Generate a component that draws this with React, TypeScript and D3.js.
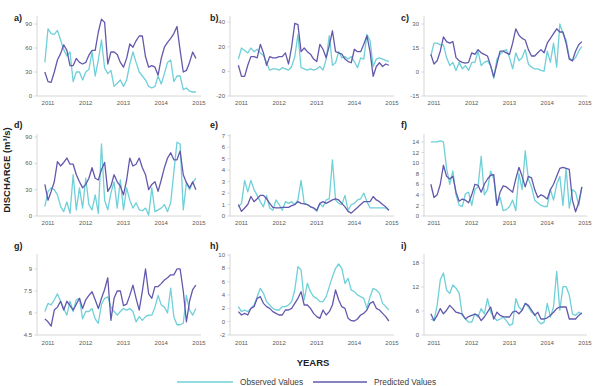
import React from "react";
import * as d3 from "d3";

// ---------- DATA ----------
// monthly values Dec 2010 .. Dec 2014 (49 points)
const startYear = 2010 + 11 / 12;
const nMonths = 49;
const yearTicks = [2011, 2012, 2013, 2014, 2015];
const seriesNames = ["Observed Values", "Predicted Values"];
const panelLabels = ["a)", "b)", "c)", "d)", "e)", "f)", "g)", "h)", "i)"];

const obsA = [42,84,78,77,82,70,58,50,55,18,30,30,20,30,33,55,25,45,70,35,28,32,12,16,20,12,20,40,55,42,30,25,20,12,10,12,25,15,28,42,45,18,25,25,8,10,6,5,5];
const predA = [30,18,17,30,45,53,64,57,38,38,47,42,40,42,51,57,57,80,96,92,40,55,55,52,42,36,47,65,61,69,75,75,49,36,38,36,26,47,61,67,72,78,87,57,30,32,42,55,47];

const obsB = [10,19,17,15,19,16,18,15,13,7,1,2,2,1,3,2,1,4,12,30,3,2,1,2,1,2,4,1,10,29,5,7,16,11,12,10,12,8,3,11,10,30,25,4,10,11,10,9,8];
const predB = [5,-4,-4,5,12,12,11,22,15,5,12,11,11,12,12,15,6,20,39,38,16,19,16,14,10,8,22,18,11,21,33,16,15,14,10,8,7,18,16,16,22,29,16,-4,4,7,4,6,5];

const obsC = [10,18,18,17,17,9,4,6,1,6,2,4,1,6,6,13,4,6,7,4,-4,8,11,13,14,9,2,12,7,9,14,5,3,2,2,1,0.5,13,6,18,3,30,24,20,9,7,9,13,16];
const predC = [11,5,7,13,22,19,18,19,9,7,6,5.5,6,12,11,14,12,11,10,4,-3,5,13,13,12,11,18,27,23,21,20,14,10,10,12,14,12,18,21,24,27,25,25,18,8,7,13,17,19];

const obsD = [11,28,32,30,24,11,5,16,3,47,7,32,9,43,13,7,24,3,82,18,7,26,39,9,41,7,32,18,9,15,7,6,9,1,32,5,7,9,13,5,15,50,84,82,7,38,30,38,43];
const predD = [36,18,28,39,62,57,61,66,59,59,47,39,32,36,43,55,43,41,53,61,28,34,47,39,34,24,41,66,57,59,66,55,47,30,36,39,28,41,55,66,72,64,64,74,47,38,32,39,30];

const obsE = [0.8,1.1,3.1,2.1,3.1,2.3,1.8,1.25,0.8,1.8,0.7,0.5,1.4,1.0,0.5,1.25,1.1,1.25,1.0,1.4,3.1,1.1,1.0,0.8,0.7,0.4,1.1,0.8,1.4,1.5,4.9,1.4,1.1,1.0,1.8,0.5,1.0,1.1,1.4,1.5,2.0,1.25,0.7,0.7,0.7,0.7,0.7,0.7,0.5];
const predE = [1.0,0.4,0.7,1.0,1.7,1.25,1.5,1.8,1.8,1.5,1.1,0.75,0.7,0.7,0.75,0.75,0.75,0.9,1.0,1.25,1.1,1.05,1.0,0.8,0.7,0.5,1.1,1.25,1.1,1.25,1.4,1.5,1.4,1.1,0.8,0.4,0.25,0.5,0.75,1.0,1.25,1.25,1.25,1.7,1.4,1.25,1.0,0.8,0.5];

const obsF = [14,14,14,14.2,14,9,6,8.5,4,2,1.8,4.2,4.5,2,5,5.5,11.3,4,5,8.5,7,2,3.5,1,1.2,1.8,3,1,8,5,12.3,7,5.5,3,2.5,2,1.8,1.8,5,3,6,7.5,2,9,1.5,5,4.5,2,5.5];
const predF = [6,3.5,4,6,9.6,7.5,7,7.5,4.5,2.8,3.2,3,2.5,4,6,5.8,4.5,6,7,7.7,7.8,2,4.5,5.7,5.5,5,4.5,7,9.2,7.5,5.5,7.5,7.2,5,3.5,4,3.7,3.2,5,6,7.5,9,9.2,9,8.8,3,0.8,2.5,5.5];

const obsG = [6.1,6.65,6.55,6.9,7.3,6.8,6.3,5.85,6.8,6.1,6.9,7.0,5.6,6.1,6.1,6.3,5.6,5.3,6.6,7.0,7.1,6.4,6.1,5.85,6.1,6.3,6.2,6.3,6.1,5.4,5.75,5.5,5.75,5.85,5.85,6.4,7.2,6.55,6.4,6.0,7.7,5.75,5.2,5.2,5.3,7.2,6.2,5.85,6.3];
const predG = [5.6,5.4,5.1,6.2,6.4,6.8,6.2,6.8,6.5,6.2,6.6,7.0,6.3,6.9,7.2,7.45,6.9,6.3,7.0,7.6,8.4,5.5,7.0,7.5,7.5,6.5,6.6,7.2,7.9,7.0,6.2,7.5,9.0,7.3,7.0,7.8,7.8,8.0,8.25,8.4,8.6,8.6,9.0,9.0,7.5,5.4,6.8,7.6,7.9];

const obsH = [2.25,1.5,1.75,1.5,2.0,2.5,3.75,5.0,4.25,3.0,2.5,2.0,1.75,1.75,2.25,2.25,2.5,3.0,4.75,8.25,7.75,3.25,5.75,4.5,3.75,3.5,3.0,3.0,3.75,5.25,6.75,8.0,8.65,8.0,5.75,6.5,4.75,4.5,4.0,3.75,3.5,2.0,3.75,5.0,4.75,4.25,2.75,2.25,1.75];
const predH = [1.5,1.0,1.25,1.0,2.0,2.25,3.5,3.75,2.75,2.25,2.0,1.5,1.25,1.0,1.0,1.75,1.75,2.0,2.75,3.5,4.5,2.5,2.5,2.0,1.25,0.75,0.5,1.75,1.0,1.5,2.5,4.75,3.25,2.25,2.0,0.5,0.15,0.1,0.4,1.0,1.25,1.75,2.75,3.0,2.0,1.75,1.25,0.75,0.1];

const obsI = [4,3.6,7.4,13.8,15.5,11.2,10.4,12.5,11.7,10.4,4.9,4.0,3.2,3.2,5.3,4.5,6.6,5.3,9.1,5.7,4.5,3.6,4.0,4.5,3.6,2.4,2.8,9.1,7.0,6.2,7.9,7.0,5.7,5.3,3.6,2.8,3.2,7.9,4.5,7.0,15.9,6.2,12.1,12.1,10,5.3,4.9,5.7,5.3];
const predI = [5.3,3.6,4.9,6.6,5.3,6.2,7.4,6.6,5.7,5.5,5.2,4.0,4.6,4.9,5.2,4.9,3.6,4.5,5.7,7.0,4.0,5.7,4.9,4.6,4.5,4.5,5.7,6.0,5.3,6.2,7.9,7.4,6.2,4.9,5.7,4.0,4.0,4.3,4.9,5.7,6.6,7.0,7.0,7.0,4.0,4.0,4.0,4.9,5.5];

const observed = [obsA, obsB, obsC, obsD, obsE, obsF, obsG, obsH, obsI];
const predicted = [predA, predB, predC, predD, predE, predF, predG, predH, predI];

const yDomains: [number, number][] = [
  [0, 100], [-20, 45], [-15, 35],
  [0, 93.4], [0, 7.15], [0, 15.5],
  [4.5, 10.02], [-2, 10.15], [0, 20.25],
];
const yTicks = [
  [0, 30, 60, 90], [-20, 0, 20, 40], [-15, 0, 15, 30],
  [0, 30, 60, 90], [0, 1, 2, 3, 4, 5, 6, 7], [0, 2, 4, 6, 8, 10, 12, 14],
  [4.5, 6, 7.5, 9], [-2, 0, 2, 4, 6, 8, 10], [0, 6, 12, 18],
];

// ---------- LAYOUT / STYLE ----------
const W = 594, H = 386;
const COLS = [
  { axisX: 37, x0: 48, x1: 199, labelX: 14 },
  { axisX: 230, x0: 241.5, x1: 392, labelX: 210 },
  { axisX: 424, x0: 434, x1: 585, labelX: 401 },
];
const ROWS = [
  { top: 16, bottom: 96, labelY: 21, yearY: 105 },
  { top: 134, bottom: 216, labelY: 128, yearY: 225 },
  { top: 254, bottom: 335, labelY: 249, yearY: 345 },
];
const OBS_COLOR = "#6fd0d8";
const PRED_COLOR = "#6259ad";
const AXIS_COLOR = "#d6d6d6";
const TEXT_COLOR = "#595959";
const FONT = "'Liberation Sans', Arial, Helvetica, sans-serif";

const months = d3.range(nMonths).map((i) => startYear + i / 12);

function Panel({ idx }: { idx: number }) {
  const col = COLS[idx % 3];
  const row = ROWS[Math.floor(idx / 3)];
  const x = d3.scaleLinear().domain([2011, 2015]).range([col.x0, col.x1]);
  const y = d3.scaleLinear().domain(yDomains[idx]).range([row.bottom, row.top]);
  const line = d3
    .line<number>()
    .x((_, i) => x(months[i]))
    .y((v) => y(v))
    .curve(d3.curveLinear);
  const xEnd = col.x1 + 2;
  return (
    <g>
      <text x={col.labelX} y={row.labelY} fontSize={9} fontWeight="bold" fill="#222" fontFamily={FONT}>
        {panelLabels[idx]}
      </text>
      <line x1={col.axisX} x2={col.axisX} y1={row.top} y2={row.bottom} stroke={AXIS_COLOR} strokeWidth={1} />
      <line x1={col.axisX} x2={xEnd} y1={row.bottom} y2={row.bottom} stroke={AXIS_COLOR} strokeWidth={1} />
      {yTicks[idx].map((t) => (
        <g key={t}>
          <line x1={col.axisX - 2.5} x2={col.axisX} y1={y(t)} y2={y(t)} stroke={AXIS_COLOR} strokeWidth={1} />
          <text
            x={col.axisX - 5}
            y={y(t)}
            dy="0.35em"
            textAnchor="end"
            fontSize={6}
            fill={TEXT_COLOR}
            fontFamily={FONT}
          >
            {String(t)}
          </text>
        </g>
      ))}
      {yearTicks.map((yr) => (
        <text
          key={yr}
          x={x(yr)}
          y={row.yearY}
          textAnchor="middle"
          fontSize={6}
          fill={TEXT_COLOR}
          fontFamily={FONT}
        >
          {yr}
        </text>
      ))}
      <path d={line(observed[idx]) || ""} fill="none" stroke={OBS_COLOR} strokeWidth={1.3} strokeLinejoin="round" />
      <path d={line(predicted[idx]) || ""} fill="none" stroke={PRED_COLOR} strokeWidth={1.3} strokeLinejoin="round" />
    </g>
  );
}

export default function App() {
  return (
    <svg
      width={W}
      height={H}
      viewBox={`0 0 ${W} ${H}`}
      style={{ position: "absolute", left: 0, top: 0, background: "#fff" }}
    >
      <rect width={W} height={H} fill="#fff" />
      {d3.range(9).map((i) => (
        <Panel key={i} idx={i} />
      ))}
      <text
        transform="translate(10,170) rotate(-90)"
        textAnchor="middle"
        fontSize={9.5}
        fontWeight="bold"
        fill="#222"
        fontFamily={FONT}
      >
        DISCHARGE (m³/s)
      </text>
      <text x={313} y={366} textAnchor="middle" fontSize={9.5} fontWeight="bold" fill="#222" fontFamily={FONT}>
        YEARS
      </text>
      <line x1={177} x2={233} y1={382} y2={382} stroke={OBS_COLOR} strokeWidth={1.3} />
      <text x={240} y={385} fontSize={8.3} fill="#404040" fontFamily={FONT}>
        {seriesNames[0]}
      </text>
      <line x1={313} x2={367} y1={382} y2={382} stroke={PRED_COLOR} strokeWidth={1.3} />
      <text x={374} y={385} fontSize={8.3} fill="#404040" fontFamily={FONT}>
        {seriesNames[1]}
      </text>
    </svg>
  );
}
